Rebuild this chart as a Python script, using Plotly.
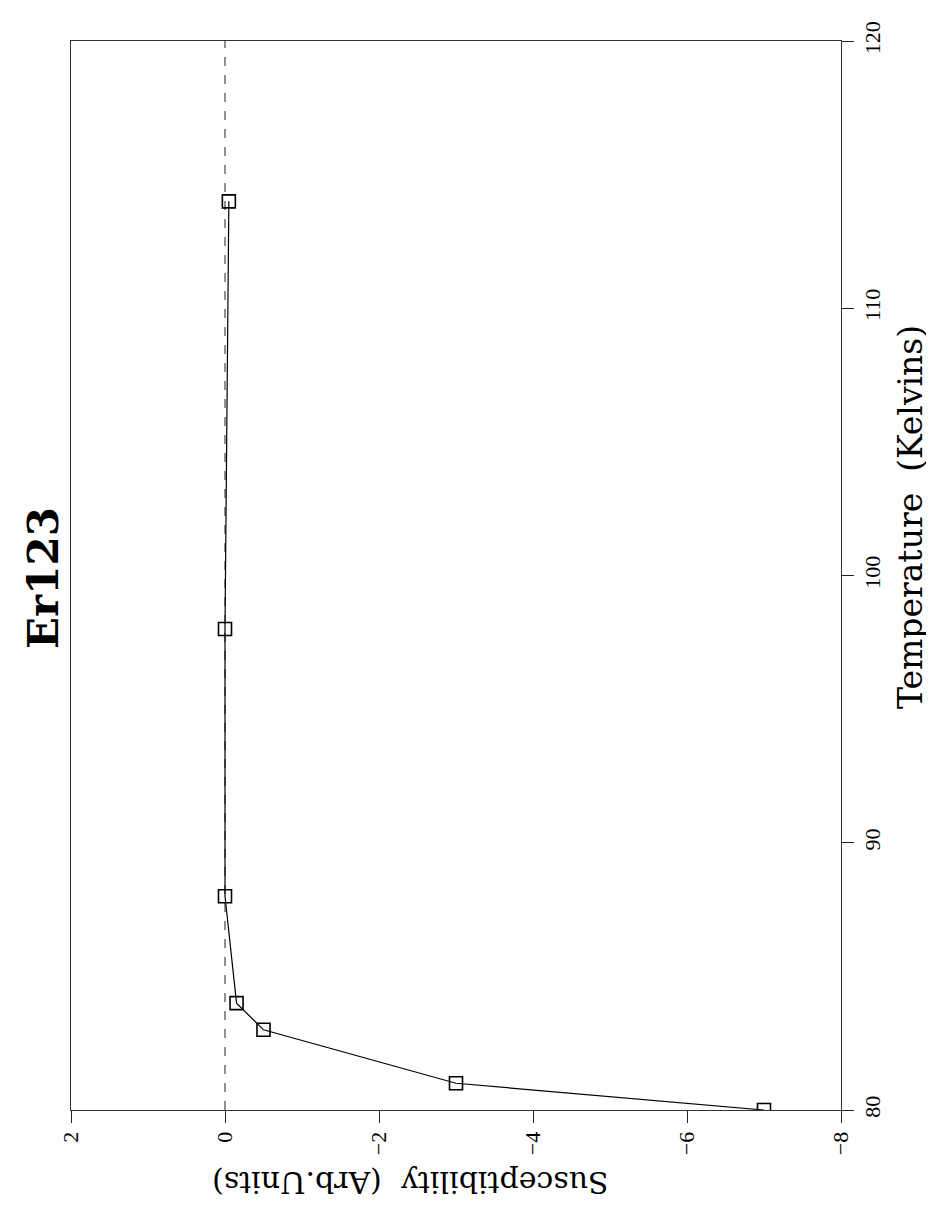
import plotly.graph_objects as go

# ---- data ----
temperature_K = [80, 81, 83, 84, 88, 98, 114]
susceptibility = [-7.0, -3.0, -0.5, -0.15, 0.0, 0.0, -0.05]

zero_line_T = [80, 120]
zero_line_chi = [0, 0]

chi_ticks = [2, 0, -2, -4, -6, -8]
chi_ticklabels = ["2", "0", "−2", "−4", "−6", "−8"]
T_ticks = [80, 90, 100, 110, 120]
T_ticklabels = ["80", "90", "100", "110", "120"]

title_text = "<b>Er123</b>"
chi_title = "Susceptibility  (Arb.Units)"
T_title = "Temperature  (Kelvins)"

SERIF = "Liberation Serif, DejaVu Serif, serif"
WIDE_SERIF = "DejaVu Serif, Liberation Serif, serif"

fig = go.Figure()
fig.add_trace(go.Scatter(
    x=zero_line_chi, y=zero_line_T, mode="lines",
    line=dict(color="#222222", width=1, dash="dash"),
    hoverinfo="skip"))
fig.add_trace(go.Scatter(
    x=susceptibility, y=temperature_K, mode="lines+markers",
    line=dict(color="black", width=1.2),
    marker=dict(symbol="square-open", size=13, color="black",
                line=dict(width=1.6, color="black"))))

fig.update_layout(
    width=934, height=1207,
    margin=dict(l=63, r=101, t=33, b=105),
    plot_bgcolor="white", paper_bgcolor="white",
    showlegend=False,
    font=dict(family=SERIF, color="black"),
)

fig.update_xaxes(
    range=[2, -8], tickvals=chi_ticks, ticktext=chi_ticklabels,
    tickangle=-90, ticks="outside", ticklen=12, tickcolor="#222222",
    showgrid=False, zeroline=False, showline=True, linecolor="#333333",
    linewidth=1, mirror=True, tickfont=dict(size=22, family=SERIF))

fig.update_yaxes(
    range=[80, 120], side="right", tickvals=T_ticks, ticktext=T_ticklabels,
    tickangle=-90, ticks="outside", ticklen=12, tickcolor="#222222",
    showgrid=False, zeroline=False, showline=True, linecolor="#333333",
    linewidth=1, mirror=True, tickfont=dict(size=22, family=SERIF))

fig.add_annotation(
    text=title_text, xref="paper", yref="paper", x=-0.036, y=0.498,
    xanchor="center", yanchor="middle", textangle=-90, showarrow=False,
    font=dict(size=42, family=WIDE_SERIF, color="black"))

fig.add_annotation(
    text=T_title, xref="paper", yref="paper", x=1.09, y=0.555,
    xanchor="center", yanchor="middle", textangle=-90, showarrow=False,
    font=dict(size=33, family=WIDE_SERIF, color="black"))

fig.add_annotation(
    text=chi_title, xref="paper", yref="paper", x=0.44, y=-0.068,
    xanchor="center", yanchor="middle", textangle=180, showarrow=False,
    font=dict(size=30, family=WIDE_SERIF, color="black"))

fig.write_html("out.html")
